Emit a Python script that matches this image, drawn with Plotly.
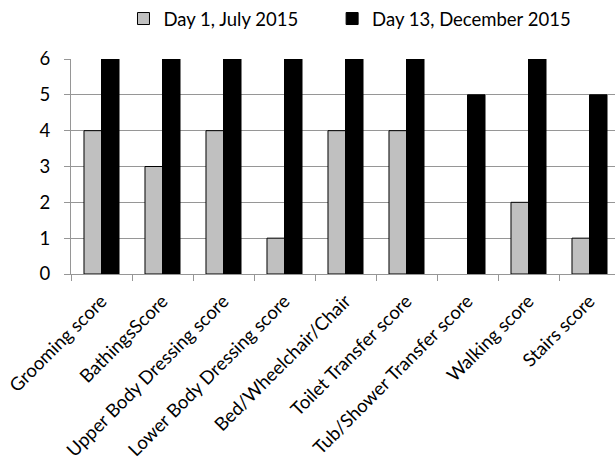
import plotly.graph_objects as go

categories = ["Grooming score", "BathingsScore", "Upper Body Dressing score",
              "Lower Body Dressing score", "Bed/Wheelchair/Chair", "Toilet Transfer score",
              "Tub/Shower Transfer score", "Walking score", "Stairs score"]
day1 = [4, 3, 4, 1, 4, 4, None, 2, 1]
day13 = [6, 6, 6, 6, 6, 6, 5, 6, 5]
y_ticks = [0, 1, 2, 3, 4, 5, 6]

FONT = "Lato"
FS = 18.5

fig = go.Figure()
fig.add_trace(go.Bar(x=categories, y=day1, name="Day 1, July 2015", legend="legend",
                     marker=dict(color="#c0c0c0", line=dict(color="#000000", width=1))))
fig.add_trace(go.Bar(x=categories, y=day13, name="Day 13, December 2015", legend="legend2",
                     marker=dict(color="#000000", line=dict(color="#000000", width=1))))

leg_common = dict(orientation="h", y=1.0, xanchor="left", yanchor="top",
                  yref="container", font=dict(family=FONT, size=FS),
                  itemwidth=30, bgcolor="rgba(0,0,0,0)")

fig.update_layout(
    width=615, height=461,
    margin=dict(l=71, r=0, t=59, b=187),
    paper_bgcolor="white", plot_bgcolor="white",
    barmode="group", bargap=0.426, bargroupgap=0,
    font=dict(family=FONT, size=FS, color="#000000"),
    legend=dict(x=0.0965, **leg_common),
    legend2=dict(x=0.48, **leg_common),
    showlegend=True,
)
fig.update_xaxes(
    range=[-0.5, 8.418], tickangle=-45,
    showline=True, linecolor="#969696", linewidth=1,
    ticks="outside", tickson="boundaries", ticklen=6, tickcolor="#969696",
    showgrid=False, tickfont=dict(family=FONT, size=FS), ticklabelstandoff=8,
)
fig.update_yaxes(
    range=[0, 6], tickvals=y_ticks,
    showline=True, linecolor="#969696", linewidth=1,
    ticks="outside", ticklen=6, tickcolor="#969696",
    showgrid=True, gridcolor="#969696", gridwidth=1, zeroline=False,
    tickfont=dict(family=FONT, size=FS), ticklabelstandoff=10,
)

fig.write_html("out.html")
